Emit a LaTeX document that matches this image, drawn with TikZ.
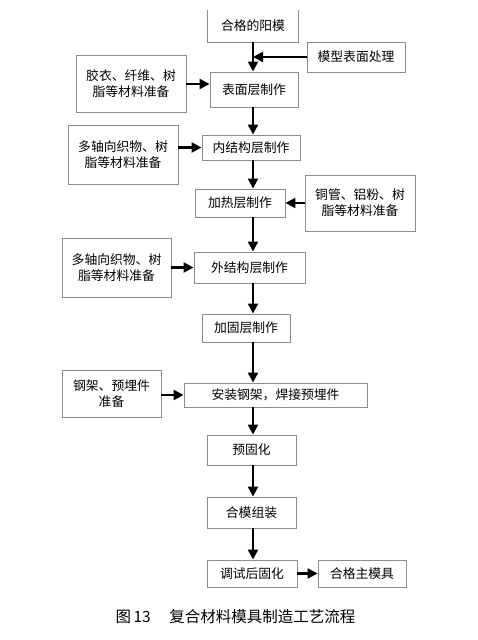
\documentclass[tikz,border=0pt]{standalone}
\usepackage{fontspec}
\setmainfont{Noto Sans CJK SC}
\usetikzlibrary{arrows.meta}
\tikzset{
  box/.style={draw=black!45, line width=0.9pt, inner sep=0pt, align=center,
              font=\fontsize{12.8}{16}\selectfont},
  arr/.style={line width=2.2pt, -{Triangle[length=10pt,width=10pt]}},
}
\newcommand{\bx}[5]{\node[box, minimum width=#3, minimum height=#4] (#1) at #2 {#5};}
\begin{document}
\begin{tikzpicture}[x=1pt,y=-1pt]
\path[use as bounding box, fill=white] (0,0) rectangle (477,640);
% top box with open top edge
\node[box, draw=none, minimum width=90, minimum height=32] (top) at (253,26) {合格的阳模};
\draw[black!45, line width=0.9pt] (top.north west) -- (top.south west) -- (top.south east) -- (top.north east);
\bx{msurf}{(356,57)}{98}{30}{模型表面处理}
\bx{gel}{(131,84)}{110}{57}{胶衣、纤维、树\\脂等材料准备}
\bx{surf}{(254,89.5)}{88}{35}{表面层制作}
\bx{mat2}{(123,154.5)}{110}{59}{多轴向织物、树\\脂等材料准备}
\bx{inner}{(251,147.5)}{98}{25}{内结构层制作}
\bx{heat}{(240,203)}{90}{28}{加热层制作}
\bx{cu}{(360,203)}{110}{56}{铜管、铝粉、树\\脂等材料准备}
\bx{mat3}{(116.5,267.5)}{109}{59}{多轴向织物、树\\脂等材料准备}
\bx{outer}{(249.5,267.5)}{111}{31}{外结构层制作}
\bx{reinf}{(246,328)}{88}{28}{加固层制作}
\bx{steel}{(111.5,394)}{99}{47}{钢架、预埋件\\准备}
\bx{inst}{(275.5,395)}{183}{24}{安装钢架，焊接预埋件}
\bx{pre}{(251.5,450)}{89}{30}{预固化}
\bx{mold}{(251.5,512.5)}{89}{31}{合模组装}
\bx{post}{(252,573.5)}{90}{27}{调试后固化}
\bx{final}{(362,573.5)}{88}{27}{合格主模具}
\coordinate (spine) at (253,0);
\coordinate (j) at (253,57);
% vertical flow
\draw[arr] (top.south -| spine) -- (surf.north -| spine);
\draw[arr] (surf.south -| spine) -- (inner.north -| spine);
\draw[arr] (inner.south -| spine) -- (heat.north -| spine);
\draw[arr] (heat.south -| spine) -- (outer.north -| spine);
\draw[arr] (outer.south -| spine) -- (reinf.north -| spine);
\draw[arr] (reinf.south -| spine) -- (inst.north -| spine);
\draw[arr] (inst.south -| spine) -- (pre.north -| spine);
\draw[arr] (pre.south -| spine) -- (mold.north -| spine);
\draw[arr] (mold.south -| spine) -- (post.north -| spine);
% side inputs
\draw[arr] (msurf.west) -- (j);
\draw[arr] (gel.east) -- (surf.west |- gel.east);
\draw[arr] (mat2.east |- inner.west) -- (inner.west);
\draw[arr] (cu.west) -- (heat.east);
\draw[arr] (mat3.east) -- (outer.west);
\draw[arr] (steel.east |- inst.west) -- (inst.west);
\draw[arr] (post.east) -- (final.west);
% caption
\node[font=\fontsize{15.5}{18}\selectfont, inner sep=0pt] (cap) at (235.5,617) {图\,13\hspace{1.2em}复合材料模具制造工艺流程};
\end{tikzpicture}
\end{document}
